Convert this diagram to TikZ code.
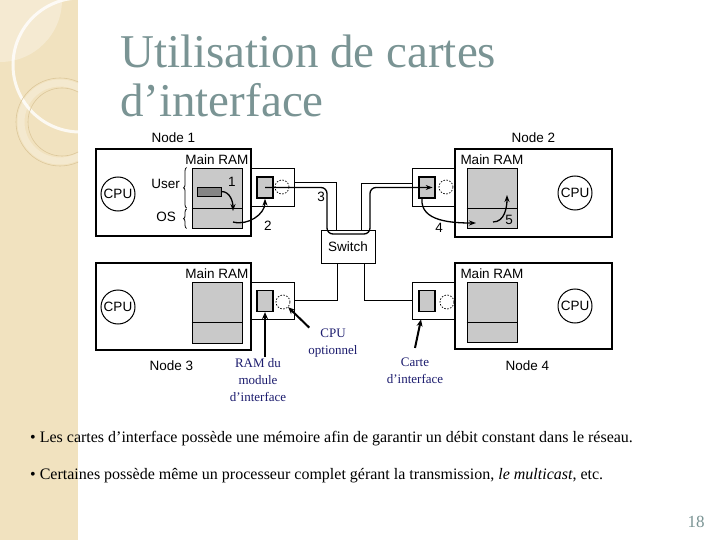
\documentclass[tikz,border=0pt]{standalone}
\usepackage{fontspec}
\setmainfont{Liberation Serif}
\setsansfont{Liberation Sans}
\usetikzlibrary{arrows.meta, positioning, decorations.pathreplacing}
\definecolor{sltitle}{HTML}{7A9494}
\definecolor{slstrip}{HTML}{F1E2BF}
\definecolor{slring}{HTML}{DCC79A}
\definecolor{ramgray}{HTML}{C9C9C9}
\definecolor{bargray}{HTML}{858585}
\definecolor{navy}{HTML}{1C1C6E}

\begin{document}
\begin{tikzpicture}[x=1pt, y=-1pt,
  host/.style={rectangle, draw, fill=white, line width=1.1pt, minimum width=155pt, minimum height=87pt, inner sep=0pt},
  card/.style={rectangle, draw, fill=white, line width=0.9pt, minimum width=43pt, minimum height=38pt, inner sep=0pt},
  buf/.style={rectangle, draw, fill=ramgray, line width=1.3pt, minimum width=16pt, minimum height=21pt, inner sep=0pt},
  opt/.style={circle, draw, dash pattern=on 1.5pt off 1.5pt, line width=0.7pt, minimum size=14pt, inner sep=0pt},
  ram/.style={rectangle, draw, fill=ramgray, line width=0.9pt, minimum width=50pt, minimum height=60pt, inner sep=0pt},
  cpu/.style={circle, draw, line width=1pt, minimum size=34pt, inner sep=0pt, font=\sffamily\fontsize{13.5}{14}\selectfont},
  lbl/.style={font=\sffamily\fontsize{13.5}{14}\selectfont, inner sep=1pt},
  note/.style={font=\fontsize{13}{17}\selectfont, text=navy, align=center, inner sep=1pt},
  wire/.style={line width=1pt},
  msg/.style={line width=1.3pt, rounded corners=6pt, -{Stealth[length=7pt,width=5pt]}},
  flow/.style={line width=1.3pt, -{Stealth[length=7pt,width=5pt]}},
  pointer/.style={line width=2pt, -{Stealth[length=7pt,width=6pt]}},
  brc/.style={decorate, decoration={brace, amplitude=3pt}, line width=0.8pt},
  ttl/.style={font=\fontsize{47}{49}\selectfont, anchor=base west, inner sep=0pt, text=sltitle},
  bullet/.style={anchor=base west, inner sep=0pt, font=\fontsize{16}{18}\selectfont},
]
  \useasboundingbox (0,0) rectangle (720,540);
  \fill[white] (0,0) rectangle (720,540);

  % left strip
  \begin{scope}
    \clip (0,0) rectangle (78,540);
    \fill[slstrip] (0,0) rectangle (78,540);
    \fill[white, opacity=0.3] (0,0) circle (62pt);
    \draw[white, line width=3pt, opacity=0.8] (80,65) circle (67pt);
    \draw[white, line width=7pt, opacity=0.25] (60,122) circle (39pt);
    \draw[slring, line width=0.6pt] (60,122) circle (44pt);
    \draw[slring, line width=0.6pt] (62,122) circle (34pt);
  \end{scope}

  % title
  \node[ttl] (title1) at (120,68) {Utilisation de cartes};
  \node[ttl] (title2) at (120,117) {d’interface};

  % interface cards and hosts
  \node[card] (c1) at (272.5,187) {};
  \node[host] (n1) at (173.5,192.5) {};
  \node[card] (c2) at (434,187) {};
  \node[host, minimum width=157pt, minimum height=88pt] (n2) at (533.5,193) {};
  \node[card, minimum height=37pt] (c3) at (272.5,300.5) {};
  \node[host] (n3) at (173.5,306.5) {};
  \node[card, minimum height=37pt] (c4) at (434,300.5) {};
  \node[host, minimum width=157pt, minimum height=86pt] (n4) at (533.5,306) {};

  % CPUs
  \node[cpu] (p1) at (118,194) {CPU};
  \node[cpu] (p2) at (575,193) {CPU};
  \node[cpu] (p3) at (118,307) {CPU};
  \node[cpu] (p4) at (575,306) {CPU};

  % main memories
  \node[ram] (r1) at (217,198) {};
  \node[ram] (r2) at (492,198) {};
  \node[ram, minimum height=61pt] (r3) at (217,312.5) {};
  \node[ram] (r4) at (492,312) {};
  \foreach \r in {r1,r2,r3,r4} {
    \draw[line width=0.9pt] ([yshift=-10pt]\r.west) -- ([yshift=-10pt]\r.east);
    \node[lbl, above=2pt of \r] (\r lbl) {Main RAM};
  }
  \node[rectangle, draw, fill=bargray, line width=0.9pt, minimum width=24pt, minimum height=9pt, inner sep=0pt] (bar) at (209,191.5) {};

  % buffers and optional CPUs on the cards
  \node[buf] (b1) at (265,187.5) {};
  \node[buf] (b2) at (427,187.5) {};
  \node[buf] (b3) at (265,301) {};
  \node[buf] (b4) at (427,301) {};
  \node[opt] (d1) at (282,187) {};
  \node[opt] (d2) at (446,187) {};
  \node[opt] (d3) at (283,302) {};
  \node[opt] (d4) at (447,302) {};

  % user / OS braces
  \draw[brc] ([xshift=-5pt,yshift=-10pt]r1.west) -- ([xshift=-5pt]r1.north west);
  \draw[brc] ([xshift=-5pt]r1.south west) -- ([xshift=-5pt,yshift=-11pt]r1.west);
  \node[lbl, anchor=east] (userlbl) at (181,184) {User};
  \node[lbl, anchor=east] (oslbl) at (177,217) {OS};

  % switch and wires
  \node[rectangle, draw, fill=white, line width=1pt, minimum width=54pt, minimum height=32pt, lbl] (sw) at (348,247) {Switch};
  \draw[wire] ([yshift=4pt]c1.east) -| ([xshift=-12pt]sw.north);
  \draw[wire] ([xshift=13pt]sw.north) |- ([yshift=3pt]c2.west);
  \draw[wire] (c3.east) -| ([xshift=-11pt]sw.south);
  \draw[wire] ([xshift=16pt]sw.south) |- (c4.west);

  % message path
  \coordinate (dipl) at (327,234);
  \coordinate (dipr) at (370,234);
  \draw[msg] (b1.center) -| (dipl) -- (dipr) |- ([xshift=-3pt]b2.east);

  % copy steps
  \coordinate (os1) at (233,211);
  \coordinate (os1s) at (233,222);
  \coordinate (k4) at (476,223);
  \coordinate (k5s) at (493,222);
  \coordinate (k5) at (507,195);
  \draw[flow] (bar.east) to[out=0, in=90] (os1);
  \draw[flow] (os1s) to[out=-15, in=-90] (b1.south);
  \draw[flow] ([xshift=-5pt]b2.south) to[out=-95, in=180] (k4);
  \draw[flow] (k5s) to[out=0, in=-90] (k5);
  \node[lbl] (s1) at (232,182) {1};
  \node[lbl] (s2) at (268,226) {2};
  \node[lbl] (s3) at (321,197) {3};
  \node[lbl] (s4) at (439,228) {4};
  \node[lbl] (s5) at (509,220) {5};

  % node names
  \node[lbl, above=5pt of n1] (n1lbl) {Node 1};
  \node[lbl, above=5pt of n2] (n2lbl) {Node 2};
  \node[lbl, below=9pt of n3, xshift=-2pt] (n3lbl) {Node 3};
  \node[lbl, below=10pt of n4, xshift=-6pt] (n4lbl) {Node 4};

  % annotations
  \node[note] (ramnote) at (258,380) {RAM du\\module\\d’interface};
  \node[note] (optnote) at (333,343) {CPU\\optionnel};
  \node[note] (cardnote) at (415,371) {Carte\\d’interface};
  \draw[pointer] (b3.south |- ramnote.north) -- (b3.south);
  \draw[pointer] ([xshift=2pt]optnote.north west) -- (d3.south east);
  \draw[pointer] ([yshift=9pt]cardnote.north) -- ([xshift=-13pt]c4.south);

  % bullets
  \node[bullet] (bul1) at (30,442) {• Les cartes d’interface possède une mémoire afin de garantir un débit constant dans le réseau.};
  \node[bullet] (bul2) at (30,479) {• Certaines possède même un processeur complet gérant la transmission, \textit{le multicast}, etc.};

  \node[text=sltitle, font=\fontsize{17}{17}\selectfont] (pgnum) at (696,522) {18};
\end{tikzpicture}
\end{document}
